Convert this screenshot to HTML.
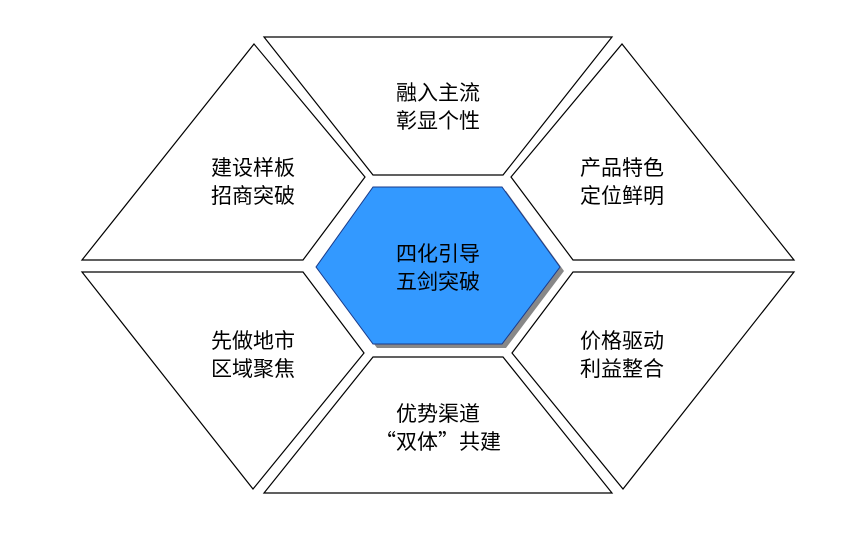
<!DOCTYPE html>
<html><head><meta charset="utf-8"><style>
html,body{margin:0;padding:0;background:#fff;}
svg text{font-family:"WenQuanYi Zen Hei","Noto Sans CJK SC",sans-serif;font-size:21px;fill:#000;text-anchor:middle;}
</style></head><body>
<svg width="866" height="543" viewBox="0 0 866 543" xmlns="http://www.w3.org/2000/svg">
<g fill="#fff" stroke="#000" stroke-width="1.2">
<polygon points="264,37 612,37 503,175 373,175"/>
<polygon points="82,260 254,44 365,177 303,260"/>
<polygon points="794,260 622,44 511,177 573,260"/>
<polygon points="82,272 303,272 364,353 253,489"/>
<polygon points="794,272 573,272 512,353 623,489"/>
<polygon points="373,357 503,357 612,493 264,493"/>
</g>
<polygon points="377,191 506,191 564,271 506,348 377,348 320,271" fill="#888"/>
<polygon points="373,187 502,187 560,267 502,344 373,344 316,267" fill="#3399ff" stroke="#1a3a8a" stroke-width="1"/>
<text x="438" y="100">融入主流</text>
<text x="438" y="128">彰显个性</text>
<text x="253" y="175">建设样板</text>
<text x="253" y="203">招商突破</text>
<text x="622" y="175">产品特色</text>
<text x="622" y="203">定位鲜明</text>
<text x="438" y="261">四化引导</text>
<text x="438" y="289">五剑突破</text>
<text x="253" y="348">先做地市</text>
<text x="253" y="376">区域聚焦</text>
<text x="622" y="348">价格驱动</text>
<text x="622" y="376">利益整合</text>
<text x="438" y="421">优势渠道</text>
<text x="438" y="449">“双体”共建</text>
</svg>
</body></html>
